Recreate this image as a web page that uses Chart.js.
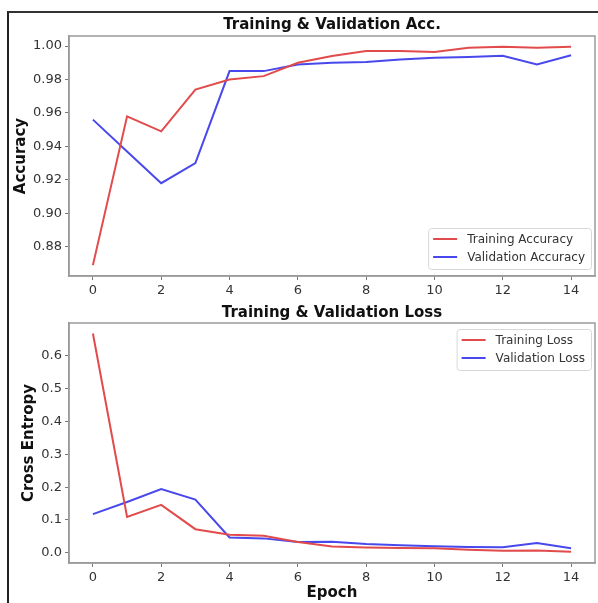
<!DOCTYPE html>
<html>
<head>
<meta charset="utf-8">
<script src="https://cdn.jsdelivr.net/npm/chart.js@4/dist/chart.umd.min.js"></script>
<style>
  html, body { margin: 0; padding: 0; background: #fff; }
  #page { position: relative; width: 598px; height: 603px; overflow: hidden; }
  #frame { position: absolute; left: 7px; top: 11px; right: -2px; bottom: -2px; border-left: 2px solid #222; border-top: 2px solid #333; }
  canvas { position: absolute; left: 0; }
  #accChart { top: 0; }
  #lossChart { top: 300px; }
</style>
</head>
<body>
<div id="page">
  <div id="frame"></div>
  <canvas id="accChart" width="598" height="300"></canvas>
  <canvas id="lossChart" width="598" height="303"></canvas>
</div>
<script>
const epochs = [0, 1, 2, 3, 4, 5, 6, 7, 8, 9, 10, 11, 12, 13, 14];

const trainAcc = [0.869, 0.958, 0.949, 0.974, 0.980, 0.982, 0.990, 0.994, 0.997, 0.997, 0.9965, 0.999, 0.9995, 0.999, 0.9995];
const valAcc = [0.956, 0.937, 0.918, 0.930, 0.985, 0.985, 0.989, 0.990, 0.9905, 0.992, 0.993, 0.9935, 0.9942, 0.989, 0.9945];

const trainLoss = [0.668, 0.109, 0.146, 0.072, 0.055, 0.052, 0.033, 0.019, 0.016, 0.015, 0.014, 0.009, 0.006, 0.007, 0.003];
const valLoss = [0.118, 0.155, 0.194, 0.162, 0.047, 0.044, 0.033, 0.034, 0.027, 0.023, 0.020, 0.018, 0.017, 0.030, 0.014];

const xTicks = [0, 2, 4, 6, 8, 10, 12, 14];
const accTicks = [0.88, 0.90, 0.92, 0.94, 0.96, 0.98, 1.00];
const lossTicks = [0.0, 0.1, 0.2, 0.3, 0.4, 0.5, 0.6];

const RED = "#e24b4b";
const BLUE = "#4848ec";
const FONT = "'DejaVu Sans', sans-serif";

function points(values) {
  return epochs.map((e, i) => ({ x: e, y: values[i] }));
}

// matplotlib-style box around the axes
const boxPlugin = {
  id: "axesBox",
  afterDraw(chart) {
    const { ctx, chartArea: a } = chart;
    ctx.save();
    ctx.strokeStyle = "#9a9a9a";
    ctx.lineWidth = 1.5;
    ctx.strokeRect(a.left, a.top, a.right - a.left, a.bottom - a.top);
    ctx.restore();
  }
};

// legend drawn inside the plot area
const innerLegend = {
  id: "innerLegend",
  afterDraw(chart, args, opts) {
    const { ctx, chartArea: a } = chart;
    const sets = chart.data.datasets;
    ctx.save();
    ctx.font = "12px " + FONT;
    const textW = Math.max(...sets.map((d) => ctx.measureText(d.label).width));
    const w = 5 + 24 + 10 + textW + 6;
    const h = 11 + (sets.length - 1) * 18 + 12;
    const x = a.right - 4 - w;
    const y = opts.corner === "upper" ? a.top + 6 : a.bottom - 7 - h;
    ctx.fillStyle = "rgba(255,255,255,0.85)";
    ctx.strokeStyle = "#d8d8d8";
    ctx.lineWidth = 1;
    ctx.beginPath();
    ctx.roundRect(x + 0.5, y + 0.5, w, h, 3);
    ctx.fill();
    ctx.stroke();
    sets.forEach((d, i) => {
      const cy = y + 11 + i * 18;
      ctx.strokeStyle = d.borderColor;
      ctx.lineWidth = 2;
      ctx.beginPath();
      ctx.moveTo(x + 5, cy);
      ctx.lineTo(x + 29, cy);
      ctx.stroke();
      ctx.fillStyle = "#333";
      ctx.textBaseline = "middle";
      ctx.fillText(d.label, x + 39, cy + 1);
    });
    ctx.restore();
  }
};

function makeChart(canvas, cfg) {
  return new Chart(canvas, {
    type: "line",
    data: {
      datasets: [
        { label: cfg.labels[0], data: points(cfg.series[0]), borderColor: RED, borderWidth: 2, pointRadius: 0, tension: 0 },
        { label: cfg.labels[1], data: points(cfg.series[1]), borderColor: BLUE, borderWidth: 2, pointRadius: 0, tension: 0 }
      ]
    },
    options: {
      responsive: false,
      animation: false,
      devicePixelRatio: 1,
      layout: { padding: { left: cfg.padLeft, right: 3, top: 0, bottom: 0 } },
      plugins: {
        legend: { display: false },
        tooltip: { enabled: false },
        title: {
          display: true,
          fullSize: false,
          text: cfg.title,
          color: "#111",
          font: { family: FONT, size: 15, weight: "bold" },
          padding: cfg.titlePad
        },
        innerLegend: { corner: cfg.legendCorner }
      },
      scales: {
        x: {
          type: "linear",
          min: -0.7,
          max: 14.7,
          afterBuildTicks: (s) => { s.ticks = xTicks.map((v) => ({ value: v })); },
          afterFit: (s) => { s.height = cfg.xHeight; },
          grid: { drawOnChartArea: false, tickLength: 4, tickColor: "#777" },
          border: { color: "#9a9a9a", width: 1.5 },
          ticks: { color: "#333", padding: 3, maxRotation: 0, font: { family: FONT, size: 13 } },
          title: {
            display: !!cfg.xTitle,
            text: cfg.xTitle || "",
            color: "#111",
            font: { family: FONT, size: 15, weight: "bold" },
            padding: { top: 0, bottom: 1 }
          }
        },
        y: {
          min: cfg.yMin,
          max: cfg.yMax,
          afterBuildTicks: (s) => { s.ticks = cfg.yTicks.map((v) => ({ value: v })); },
          afterFit: (s) => { s.width = cfg.yWidth; },
          grid: { drawOnChartArea: false, tickLength: 4, tickColor: "#777" },
          border: { color: "#9a9a9a", width: 1.5 },
          ticks: {
            color: "#333",
            padding: 3,
            font: { family: FONT, size: 13 },
            callback: (v) => Number(v).toFixed(cfg.decimals)
          },
          title: {
            display: true,
            text: cfg.yTitle,
            color: "#111",
            font: { family: FONT, size: 15, weight: "bold" },
            padding: { top: 4, bottom: 0 }
          }
        }
      }
    },
    plugins: [boxPlugin, innerLegend]
  });
}

makeChart(document.getElementById("accChart"), {
  title: "Training & Validation Acc.",
  titlePad: { top: 16, bottom: 2 },
  labels: ["Training Accuracy", "Validation Accuracy"],
  series: [trainAcc, valAcc],
  yTitle: "Accuracy",
  yTicks: accTicks,
  yMin: 0.8625,
  yMax: 1.006,
  decimals: 2,
  padLeft: 8,
  yWidth: 61,
  xHeight: 24,
  legendCorner: "lower"
});

makeChart(document.getElementById("lossChart"), {
  title: "Training & Validation Loss",
  titlePad: { top: 4, bottom: 1 },
  labels: ["Training Loss", "Validation Loss"],
  series: [trainLoss, valLoss],
  yTitle: "Cross Entropy",
  yTicks: lossTicks,
  yMin: -0.031,
  yMax: 0.70,
  decimals: 1,
  padLeft: 16,
  yWidth: 53,
  xHeight: 40,
  xTitle: "Epoch",
  legendCorner: "upper"
});
</script>
</body>
</html>
